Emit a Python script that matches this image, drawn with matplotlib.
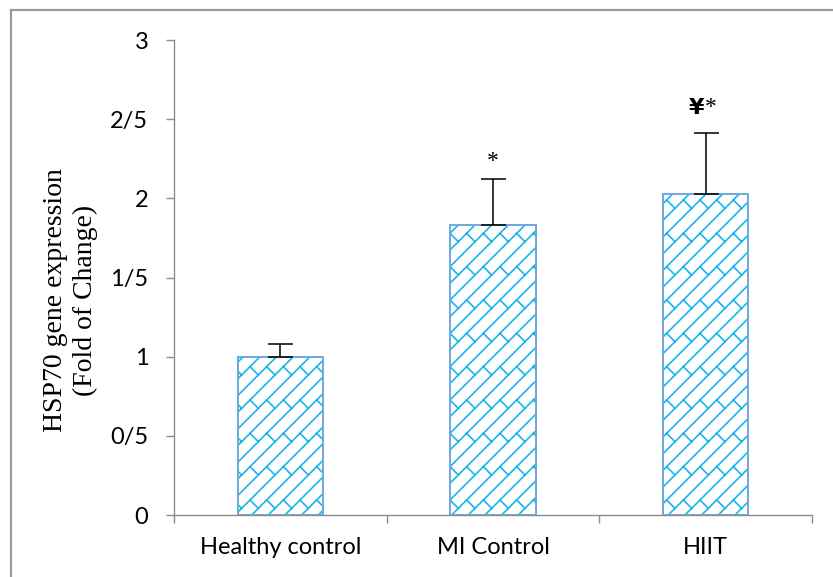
import matplotlib
matplotlib.use("Agg")
import matplotlib.pyplot as plt
import matplotlib.hatch as mhatch
from matplotlib.lines import Line2D
from matplotlib.path import Path
import numpy as np

# Data
groups = ["Healthy control", "MI Control", "HIIT"]
means = [1.00, 1.83, 2.03]
sd_upper = [0.08, 0.29, 0.38]
marks = ["", "*", "¥*"]
ytick_vals = [0, 0.5, 1, 1.5, 2, 2.5, 3]
ytick_text = ["0", "0/5", "1", "1/5", "2", "2/5", "3"]


class DiagonalBrickHatch(mhatch.HatchPatternBase):
    """Upward diagonal lines joined by staggered short downward links."""

    def __init__(self, hatch, density):
        m = int(hatch.count("/") * density)
        segs = []
        if m:
            m = m + (m % 2)  # even count keeps the stagger periodic
            gap = 1.0 / m          # offset between neighbouring diagonals
            half = gap / 2.0       # run of a link between two diagonals
            for k in range(-2 * m, 2 * m + 1):
                c = k * gap
                segs.append(((-1.0, -1.0 - c), (2.0, 2.0 - c)))
                a = (k % 2) * gap - 1.0
                while a < 2.0:
                    p0 = (a, a - c)
                    p1 = (a + half, a - c - half)
                    if (max(p0[0], p1[0]) > -0.2 and min(p0[0], p1[0]) < 1.2 and
                            max(p0[1], p1[1]) > -0.2 and min(p0[1], p1[1]) < 1.2):
                        segs.append((p0, p1))
                    a += 2 * gap
        self.segs = segs
        self.num_vertices = 2 * len(segs)

    def set_vertices_and_codes(self, vertices, codes):
        pts = np.array([p for seg in self.segs for p in seg], dtype=float)
        vertices[:] = pts
        codes[0::2] = Path.MOVETO
        codes[1::2] = Path.LINETO


mhatch._hatch_types[:] = [
    DiagonalBrickHatch if cls is mhatch.NorthEastHatch else cls
    for cls in mhatch._hatch_types
]

plt.rcParams["hatch.linewidth"] = 1.2

fig = plt.figure(figsize=(8.33, 5.77), dpi=100)
ax = fig.add_axes([174 / 833, 1 - 515 / 577, (812 - 174) / 833, (515 - 40) / 577])

x = np.arange(len(groups))
hatch_blue = "#1ab4ef"
edge_blue = "#6fa8dc"

# hatched fill, then the outline on top
ax.bar(x, means, width=0.4, color="white", edgecolor=hatch_blue, hatch="/",
       linewidth=0, zorder=2)
ax.bar(x, means, width=0.4, color="none", edgecolor=edge_blue, linewidth=1.4, zorder=3)
ax.errorbar(x, means, yerr=[np.zeros(len(means)), sd_upper], fmt="none",
            ecolor="black", elinewidth=1.1, capsize=9, capthick=1.1, zorder=4)

for xi, m, e, t in zip(x, means, sd_upper, marks):
    if not t:
        continue
    if t.startswith("¥"):
        ax.text(xi - 0.005, m + e + 0.16, "¥", ha="right", va="center",
                fontsize=16, fontweight="bold", family="DejaVu Sans")
        ax.text(xi - 0.005, m + e + 0.165, "*", ha="left", va="center",
                fontsize=17, family="Liberation Serif")
    else:
        ax.text(xi, m + e + 0.11, t, ha="center", va="center",
                fontsize=17, family="Liberation Serif")

ax.set_xlim(-0.5, len(groups) - 0.5)
ax.set_ylim(0, 3)

ax.set_yticks(ytick_vals)
ax.set_yticklabels(ytick_text)
ax.tick_params(axis="y", direction="out", length=5.5, width=1, color="#8c8c8c",
               pad=13, labelsize=17)

ax.set_xticks(np.arange(len(groups) + 1) - 0.5)
ax.set_xticklabels([])
ax.tick_params(axis="x", which="major", direction="out", length=6, width=1,
               color="#8c8c8c")
ax.set_xticks(x, minor=True)
ax.set_xticklabels(groups, minor=True)
ax.tick_params(axis="x", which="minor", length=0, pad=16, labelsize=17)

for lbl in ax.get_xticklabels(minor=True) + ax.get_yticklabels():
    lbl.set_family("Lato")

for side in ("top", "right"):
    ax.spines[side].set_visible(False)
for side in ("left", "bottom"):
    ax.spines[side].set_color("#8c8c8c")
    ax.spines[side].set_linewidth(1)

fig.text(55 / 833, 1 - 300 / 577, "HSP70 gene expression", rotation=90,
         ha="center", va="center", fontsize=20, family="Liberation Serif")
fig.text(85 / 833, 1 - 300 / 577, "(Fold of Change)", rotation=90,
         ha="center", va="center", fontsize=20, family="Liberation Serif")

# outer chart-area border (top and left edges)
fig.add_artist(Line2D([11 / 833, 11 / 833], [0, 1 - 10 / 577], color="#9a9a9a",
                      linewidth=1.6, transform=fig.transFigure))
fig.add_artist(Line2D([11 / 833, 1], [1 - 10 / 577, 1 - 10 / 577], color="#9a9a9a",
                      linewidth=1.6, transform=fig.transFigure))

fig.savefig("out.png", dpi=100)
